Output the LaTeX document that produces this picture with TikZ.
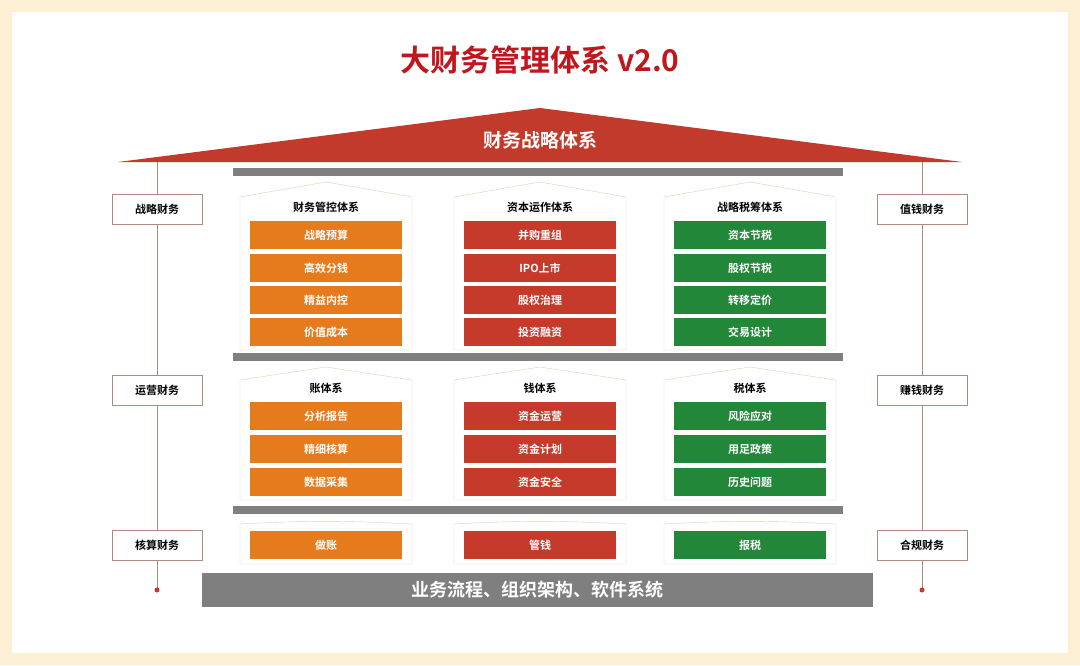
\documentclass[tikz,border=0pt]{standalone}
\usepackage{fontspec}
\setmainfont{Noto Sans CJK SC}
\newfontfamily\cjkb{Noto Sans CJK SC Bold}
\definecolor{cream}{HTML}{FCEFD3}
\definecolor{roofred}{HTML}{C23A2B}
\definecolor{titlered}{HTML}{C0161E}
\definecolor{org}{HTML}{E67B1E}
\definecolor{rd}{HTML}{C53A2B}
\definecolor{gr}{HTML}{23873A}
\definecolor{gbar}{HTML}{7F7F7F}
\definecolor{line}{HTML}{B08A80}
\definecolor{hline}{HTML}{E2CDB0}
\tikzset{
 item/.style={minimum width=152pt,minimum height=28pt,inner sep=0pt,text=white,font=\cjkb\fontsize{11}{11}\selectfont},
 side/.style={draw=line,fill=white,minimum width=90pt,minimum height=30pt,inner sep=0pt,font=\cjkb\fontsize{11}{11}\selectfont},
 htitle/.style={font=\cjkb\fontsize{11}{11}\selectfont},
}
\begin{document}
\begin{tikzpicture}[x=1pt,y=-1pt]
\fill[cream] (0,0) rectangle (1080,665);
\fill[white] (12,12) rectangle (1068,653);
\useasboundingbox (0,0) rectangle (1080,665);
\node[text=titlered,font=\cjkb\fontsize{30}{30}\selectfont] (title) at (540,60) {大财务管理体系 v2.0};
\fill[roofred] (118,162) -- (540,108) -- (962,162) -- cycle;
\node[text=white,font=\cjkb\fontsize{19}{19}\selectfont] (roof) at (540,140) {财务战略体系};
% vertical lines
\coordinate (l1) at (157,162); \coordinate (l2) at (157,590);
\coordinate (r1) at (922,162); \coordinate (r2) at (922,590);
\draw[line] (l1) -- (l2); \draw[line] (r1) -- (r2);
\fill[roofred] (l2) circle (2.5); \fill[roofred] (r2) circle (2.5);
% side boxes
\node[side] (s1) at (157,209) {战略财务};
\node[side] (s2) at (157,390) {运营财务};
\node[side] (s3) at (157,545) {核算财务};
\node[side] (s4) at (922,209) {值钱财务};
\node[side] (s5) at (922,390) {赚钱财务};
\node[side] (s6) at (922,545) {合规财务};
% gray bars
\fill[gbar] (233,168) rectangle (843,176);
\fill[gbar] (233,353) rectangle (843,361);
\fill[gbar] (233,506) rectangle (843,514);
\fill[gbar] (202,573) rectangle (873,607);
\node[text=white,font=\cjkb\fontsize{18}{18}\selectfont] (base) at (537,590) {业务流程、组织架构、软件系统};
% houses
\foreach \cx/\col/\t/\a/\b/\c/\d/\m/\ma/\mb/\mc/\bt in {
 326/org/财务管控体系/战略预算/高效分钱/精益内控/价值成本/账体系/分析报告/精细核算/数据采集/做账,
 540/rd/资本运作体系/并购重组/IPO上市/股权治理/投资融资/钱体系/资金运营/资金计划/资金安全/管钱,
 750/gr/战略税筹体系/资本节税/股权节税/转移定价/交易设计/税体系/风险应对/用足政策/历史问题/报税}{
 \draw[hline] (\cx-86,350) -- (\cx-86,197) -- (\cx,182) -- (\cx+86,197) -- (\cx+86,350) -- cycle;
 \node[htitle] at (\cx,207) {\t};
 \node[item,fill=\col] at (\cx,235) {\a};
 \node[item,fill=\col] at (\cx,268) {\b};
 \node[item,fill=\col] at (\cx,300) {\c};
 \node[item,fill=\col] at (\cx,332) {\d};
 \draw[hline] (\cx-86,500) -- (\cx-86,380) -- (\cx,367) -- (\cx+86,380) -- (\cx+86,500) -- cycle;
 \node[htitle] at (\cx,388) {\m};
 \node[item,fill=\col] at (\cx,416) {\ma};
 \node[item,fill=\col] at (\cx,449) {\mb};
 \node[item,fill=\col] at (\cx,482) {\mc};
 \draw[hline] (\cx-86,564) -- (\cx-86,524) to[bend left=3] (\cx+86,524) -- (\cx+86,564) -- cycle;
 \node[item,fill=\col] at (\cx,545) {\bt};
}
\end{tikzpicture}
\end{document}
